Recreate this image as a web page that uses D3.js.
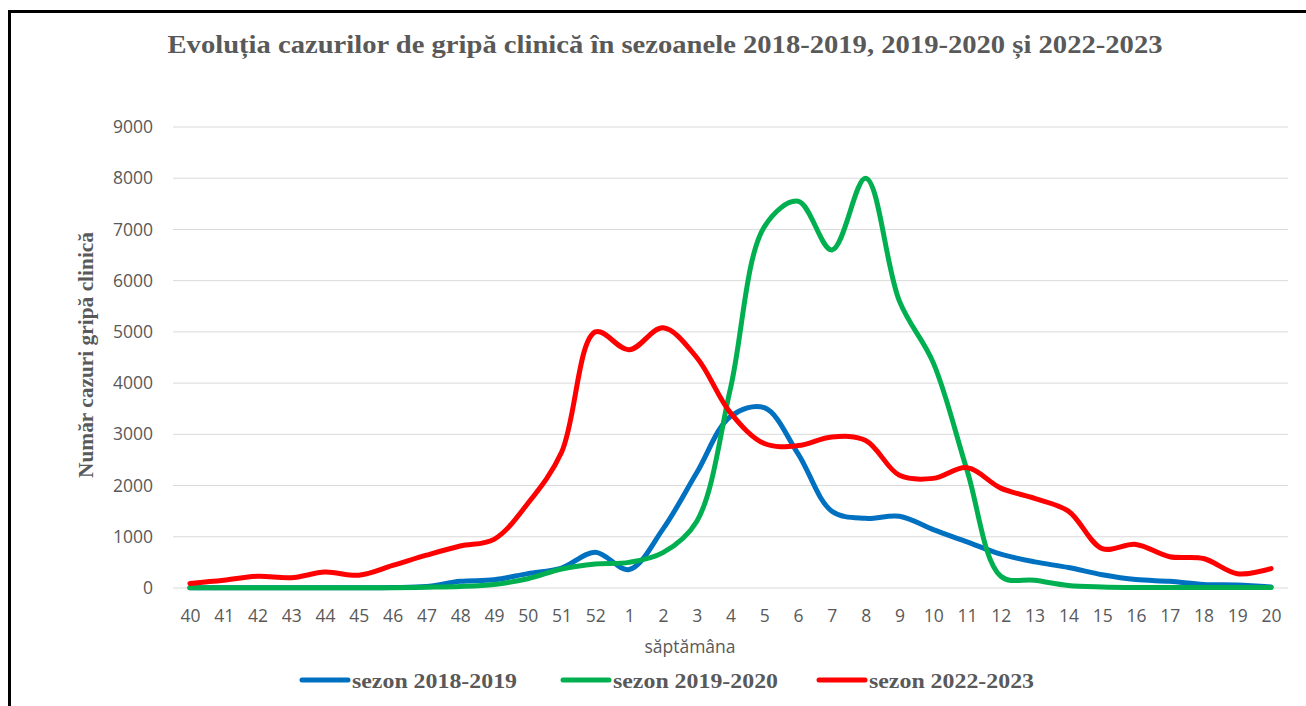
<!DOCTYPE html>
<html>
<head>
<meta charset="utf-8">
<script src="https://cdn.jsdelivr.net/npm/d3@7"></script>
<style>
  body { margin: 0; background: #fff; }
</style>
</head>
<body>
<div id="chart"></div>
<script>
// weeks on the x axis
var weeks = ["40","41","42","43","44","45","46","47","48","49","50","51","52",
             "1","2","3","4","5","6","7","8","9","10","11","12","13","14","15","16","17","18","19","20"];

var sezon2018 = [5, 5, 5, 5, 5, 5, 10, 30, 130, 160, 280, 390, 700, 360, 1150, 2250, 3350, 3520, 2620, 1500, 1360, 1400,
                 1140, 900, 660, 510, 400, 260, 165, 130, 70, 60, 20];
var sezon2019 = [5, 5, 5, 5, 5, 5, 5, 15, 30, 70, 180, 370, 470, 500, 690, 1300, 3900, 7050, 7550, 6600, 8000, 5600,
                 4400, 2300, 230, 150, 50, 20, 10, 10, 10, 10, 10];
var sezon2022 = [90, 150, 230, 200, 310, 250, 440, 640, 820, 950, 1650, 2650, 5000, 4650, 5080, 4500, 3420, 2820, 2780, 2950, 2880, 2200,
                 2140, 2350, 1950, 1750, 1500, 770, 850, 610, 575, 280, 380];

var seriesNames = ["sezon 2018-2019", "sezon 2019-2020", "sezon 2022-2023"];
var seriesColors = ["#0070C0", "#00B050", "#FF0000"];
var yTicks = [0, 1000, 2000, 3000, 4000, 5000, 6000, 7000, 8000, 9000];

var width = 1306, height = 706;
var margin = {top: 127, right: 18, bottom: 118, left: 173};
var innerW = width - margin.left - margin.right;
var innerH = height - margin.top - margin.bottom;
var grey = "#595959";

var svg = d3.select("#chart").append("svg")
    .attr("width", width)
    .attr("height", height);

// frame lines
svg.append("line").attr("x1", 9).attr("x2", width).attr("y1", 11.5).attr("y2", 11.5)
    .attr("stroke", "#000").attr("stroke-width", 3);
svg.append("line").attr("x1", 9.5).attr("x2", 9.5).attr("y1", 10).attr("y2", height)
    .attr("stroke", "#000").attr("stroke-width", 3);

// title
svg.append("text")
    .attr("x", 665).attr("y", 53)
    .attr("text-anchor", "middle")
    .attr("textLength", 995)
    .attr("lengthAdjust", "spacingAndGlyphs")
    .style("font-family", "'Liberation Serif', 'Times New Roman', serif")
    .style("font-weight", "bold")
    .style("font-size", "26px")
    .style("fill", grey)
    .text("Evoluția cazurilor de gripă clinică în sezoanele 2018-2019, 2019-2020 și 2022-2023");

var g = svg.append("g").attr("transform", "translate(" + margin.left + "," + margin.top + ")");

var x = d3.scalePoint().domain(weeks).range([0, innerW]).padding(0.5);
var y = d3.scaleLinear().domain([0, 9000]).range([innerH, 0]);

// gridlines
g.selectAll(".grid").data(yTicks).enter().append("line")
    .attr("x1", 0).attr("x2", innerW)
    .attr("y1", d => y(d)).attr("y2", d => y(d))
    .attr("stroke", "#d9d9d9").attr("stroke-width", 1);

// y axis labels
var yAxis = g.append("g").call(d3.axisLeft(y).tickValues(yTicks).tickSize(0).tickPadding(20).tickFormat(d3.format("d")));
yAxis.select(".domain").remove();
yAxis.selectAll("text")
    .style("font-family", "'Open Sans', sans-serif")
    .style("font-size", "17.5px")
    .style("fill", grey);

// x axis labels
var xAxis = g.append("g").attr("transform", "translate(0," + innerH + ")")
    .call(d3.axisBottom(x).tickSize(0).tickPadding(22));
xAxis.select(".domain").remove();
xAxis.selectAll("text")
    .style("font-family", "'Open Sans', sans-serif")
    .style("font-size", "17.5px")
    .style("fill", grey);

// axis titles
svg.append("text")
    .attr("x", 690).attr("y", 653)
    .attr("text-anchor", "middle")
    .style("font-family", "'Open Sans', sans-serif")
    .style("font-size", "17.5px")
    .style("fill", grey)
    .text("săptămâna");

svg.append("text")
    .attr("transform", "translate(93,355) rotate(-90)")
    .attr("text-anchor", "middle")
    .attr("textLength", 246)
    .attr("lengthAdjust", "spacingAndGlyphs")
    .style("font-family", "'Liberation Serif', 'Times New Roman', serif")
    .style("font-weight", "bold")
    .style("font-size", "22px")
    .style("fill", grey)
    .text("Număr cazuri gripă clinică");

// lines
var seriesData = [sezon2018, sezon2019, sezon2022];
var line = d3.line()
    .x((d, i) => x(weeks[i]))
    .y(d => y(d))
    .curve(d3.curveCatmullRom.alpha(0.5));

g.selectAll(".series").data(seriesData).enter().append("path")
    .attr("d", line)
    .attr("fill", "none")
    .attr("stroke", (d, i) => seriesColors[i])
    .attr("stroke-width", 5)
    .attr("stroke-linecap", "round")
    .attr("stroke-linejoin", "round");

// legend
var legendX = [300, 561, 817];
var legend = svg.selectAll(".legend").data(seriesNames).enter().append("g")
    .attr("transform", (d, i) => "translate(" + legendX[i] + ",680)");
legend.append("line")
    .attr("x1", 2).attr("x2", 48).attr("y1", 0).attr("y2", 0)
    .attr("stroke", (d, i) => seriesColors[i])
    .attr("stroke-width", 5)
    .attr("stroke-linecap", "round");
legend.append("text")
    .attr("x", 52).attr("y", 8)
    .attr("textLength", 165)
    .attr("lengthAdjust", "spacingAndGlyphs")
    .style("font-family", "'Liberation Serif', 'Times New Roman', serif")
    .style("font-weight", "bold")
    .style("font-size", "22px")
    .style("fill", grey)
    .text(d => d);
</script>
</body>
</html>
